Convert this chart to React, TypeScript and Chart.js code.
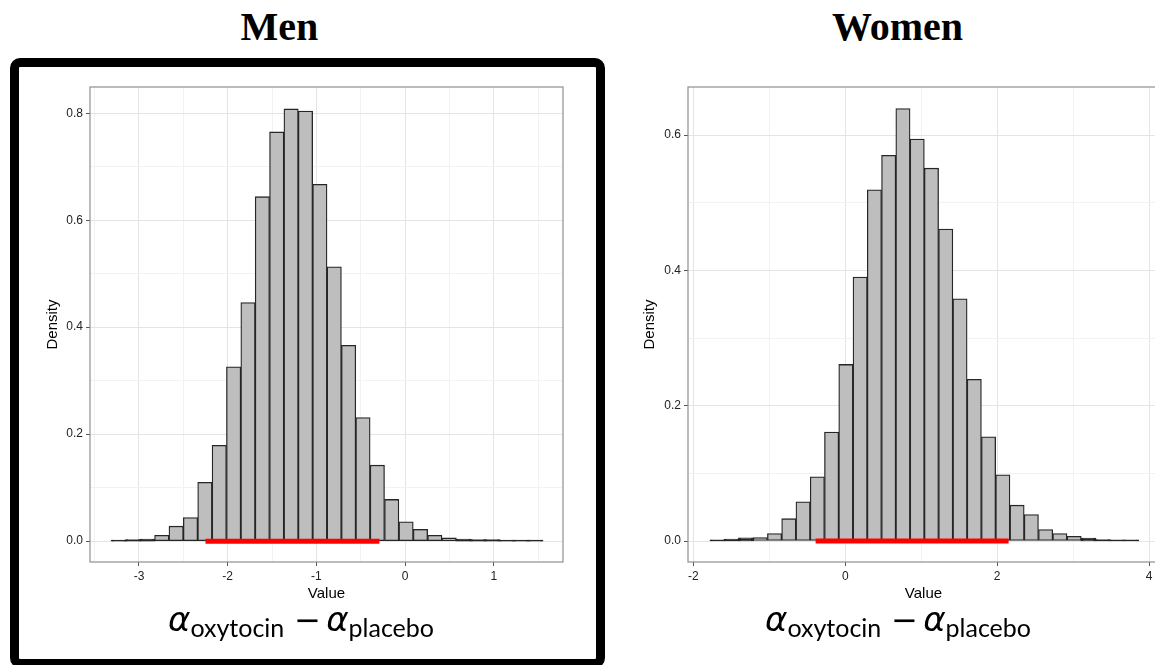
import React, { useEffect, useRef } from "react";
import { Chart, registerables } from "chart.js";

Chart.register(...registerables);

// ---------- data ----------
const panelTitles = ["Men", "Women"];
const xAxisTitle = "Value";
const yAxisTitle = "Density";

const menBinStart = -3.31;
const menBinWidth = 0.162;
const menDensity = [
  0.001, 0.002, 0.003, 0.011, 0.028, 0.044, 0.11, 0.179, 0.326, 0.446,
  0.644, 0.765, 0.808, 0.804, 0.667, 0.513, 0.366, 0.231, 0.142, 0.078,
  0.036, 0.022, 0.011, 0.006, 0.003, 0.002, 0.002, 0.001, 0.001, 0.001,
];
const menInterval = [-2.25, -0.29];
const menXRange = [-3.552, 1.78];
const menYRange = [-0.039, 0.849];
const menXStep = 0.5;
const menXMajor = 1;

const womenBinStart = -1.776;
const womenBinWidth = 0.1878;
const womenDensity = [
  0.001, 0.002, 0.004, 0.005, 0.011, 0.033, 0.058, 0.095, 0.161, 0.261,
  0.39, 0.519, 0.57, 0.639, 0.594, 0.551, 0.461, 0.358, 0.239, 0.154,
  0.098, 0.053, 0.039, 0.017, 0.011, 0.007, 0.0035, 0.0015, 0.001, 0.001,
];
const womenInterval = [-0.39, 2.15];
const womenXRange = [-2.07, 4.13];
const womenYRange = [-0.031, 0.671];
const womenXStep = 1;
const womenXMajor = 2;

const yStep = 0.1;
const yMajor = 0.2;

// ---------- helpers ----------
const isMajor = (v: number, major: number) =>
  Math.abs(v / major - Math.round(v / major)) < 1e-6;

const MAJOR_GRID = "#e4e4e4";
const MINOR_GRID = "#f2f2f2";
const BAR_FILL = "#bebebe";
const BAR_EDGE = "#262626";
const FLAT_LIMIT = 0.0045; // bars this low render as just their outline

const panelBorder = {
  id: "panelBorder",
  afterDraw(chart: any) {
    const { ctx, chartArea: a } = chart;
    ctx.save();
    ctx.strokeStyle = "#8f8f8f";
    ctx.lineWidth = 1.2;
    ctx.strokeRect(a.left, a.top, a.right - a.left, a.bottom - a.top);
    ctx.restore();
  },
};

type HistProps = {
  left: number;
  top: number;
  width: number;
  height: number;
  padding: { left: number; top: number; right: number; bottom: number };
  yTitlePad: number;
  binStart: number;
  binWidth: number;
  density: number[];
  interval: number[];
  xRange: number[];
  yRange: number[];
  xStep: number;
  xMajor: number;
};

function Histogram(p: HistProps) {
  const ref = useRef<HTMLCanvasElement>(null);
  useEffect(() => {
    const centers = p.density.map((_, i) => p.binStart + p.binWidth * (i + 0.5));
    const tickFont = { family: "'Liberation Sans', Arial, sans-serif", size: 12 };
    const titleFont = { family: "'Liberation Sans', Arial, sans-serif", size: 15 };
    const flat = (c: any) => c.raw && c.raw.y < FLAT_LIMIT;
    const chart = new Chart(ref.current as HTMLCanvasElement, {
      type: "bar",
      data: {
        datasets: [
          {
            type: "line",
            data: p.interval.map((x) => ({ x, y: 0 })),
            borderColor: "#ff0000",
            borderWidth: 5,
            pointRadius: 0,
            order: 0,
          } as any,
          {
            type: "bar",
            data: centers.map((x, i) => ({ x, y: p.density[i] })),
            backgroundColor: (c: any) => (flat(c) ? BAR_EDGE : BAR_FILL),
            inflateAmount: (c: any) => (flat(c) ? 0.8 : "auto"),
            borderColor: BAR_EDGE,
            borderWidth: 1.3,
            borderSkipped: false,
            barPercentage: 1,
            categoryPercentage: 1,
            order: 1,
          } as any,
        ],
      },
      options: {
        animation: false,
        responsive: false,
        maintainAspectRatio: false,
        events: [],
        layout: { padding: p.padding },
        plugins: { legend: { display: false }, tooltip: { enabled: false }, title: { display: false } },
        scales: {
          x: {
            type: "linear",
            min: p.xRange[0],
            max: p.xRange[1],
            offset: false,
            afterFit: (s: any) => {
              s.height = 50;
            },
            border: { display: false },
            grid: {
              offset: false,
              tickLength: 4,
              lineWidth: 1,
              color: (c: any) => (isMajor(c.tick.value, p.xMajor) ? MAJOR_GRID : MINOR_GRID),
              tickColor: (c: any) => (isMajor(c.tick.value, p.xMajor) ? "#555" : "rgba(0,0,0,0)"),
            },
            ticks: {
              stepSize: p.xStep,
              includeBounds: false,
              autoSkip: false,
              maxRotation: 0,
              padding: 3,
              color: "#222",
              font: tickFont,
              callback: (v: any) => (isMajor(Number(v), p.xMajor) ? String(Math.round(Number(v))) : ""),
            },
            title: {
              display: true,
              text: xAxisTitle,
              color: "#000",
              font: titleFont,
              padding: { top: 0, bottom: 9 },
            },
          },
          y: {
            type: "linear",
            min: p.yRange[0],
            max: p.yRange[1],
            afterFit: (s: any) => {
              s.width = 70;
            },
            border: { display: false },
            grid: {
              tickLength: 4,
              lineWidth: 1,
              color: (c: any) => (isMajor(c.tick.value, yMajor) ? MAJOR_GRID : MINOR_GRID),
              tickColor: (c: any) => (isMajor(c.tick.value, yMajor) ? "#555" : "rgba(0,0,0,0)"),
            },
            ticks: {
              stepSize: yStep,
              includeBounds: false,
              autoSkip: false,
              padding: 3,
              color: "#222",
              font: tickFont,
              callback: (v: any) => (isMajor(Number(v), yMajor) ? Number(v).toFixed(1) : ""),
            },
            title: {
              display: true,
              text: yAxisTitle,
              color: "#000",
              font: titleFont,
              padding: { top: p.yTitlePad, bottom: 0 },
            },
          },
        },
      },
      plugins: [panelBorder],
    } as any);
    return () => chart.destroy();
  }, []);
  return (
    <canvas
      ref={ref}
      width={p.width}
      height={p.height}
      style={{ position: "absolute", left: p.left, top: p.top, width: p.width, height: p.height }}
    />
  );
}

function Formula({ cx }: { cx: number }) {
  const alpha: React.CSSProperties = {
    fontFamily: "'DejaVu Sans', sans-serif",
    fontStyle: "italic",
    fontSize: 34,
  };
  const sub: React.CSSProperties = { fontSize: 25, verticalAlign: "-6px" };
  const minus: React.CSSProperties = {
    fontFamily: "'DejaVu Sans', sans-serif",
    fontSize: 32,
    margin: "0 5px 0 10px",
  };
  return (
    <div
      style={{
        position: "absolute",
        left: cx - 200,
        width: 400,
        top: 598,
        textAlign: "center",
        whiteSpace: "nowrap",
        fontFamily: "Lato, 'Open Sans', sans-serif",
        fontSize: 34,
        lineHeight: "40px",
        color: "#000",
      }}
    >
      <span style={alpha}>α</span>
      <span style={sub}>oxytocin</span>
      <span style={minus}>−</span>
      <span style={alpha}>α</span>
      <span style={sub}>placebo</span>
    </div>
  );
}

export default function App() {
  const titleStyle = (cx: number): React.CSSProperties => ({
    position: "absolute",
    left: cx - 150,
    width: 300,
    top: 7,
    textAlign: "center",
    fontFamily: "'Liberation Serif', 'Times New Roman', serif",
    fontWeight: "bold",
    fontSize: 40,
    lineHeight: "40px",
    color: "#000",
  });
  return (
    <div
      style={{
        position: "fixed",
        left: 0,
        top: 0,
        width: 1155,
        height: 665,
        overflow: "hidden",
        background: "#ffffff",
      }}
    >
      <div style={titleStyle(279.5)}>{panelTitles[0]}</div>
      <div style={titleStyle(897.5)}>{panelTitles[1]}</div>
      <div
        style={{
          position: "absolute",
          left: 10,
          top: 58,
          width: 595,
          height: 610,
          boxSizing: "border-box",
          border: "9px solid #000",
          borderRadius: 10,
        }}
      />
      <Histogram
        left={20}
        top={60}
        width={560}
        height={560}
        padding={{ left: 0, top: 27, right: 17, bottom: 8 }}
        yTitlePad={24}
        binStart={menBinStart}
        binWidth={menBinWidth}
        density={menDensity}
        interval={menInterval}
        xRange={menXRange}
        yRange={menYRange}
        xStep={menXStep}
        xMajor={menXMajor}
      />
      <Histogram
        left={600}
        top={60}
        width={580}
        height={560}
        padding={{ left: 18, top: 27, right: 21, bottom: 8 }}
        yTitlePad={23}
        binStart={womenBinStart}
        binWidth={womenBinWidth}
        density={womenDensity}
        interval={womenInterval}
        xRange={womenXRange}
        yRange={womenYRange}
        xStep={womenXStep}
        xMajor={womenXMajor}
      />
      <Formula cx={301} />
      <Formula cx={898} />
    </div>
  );
}
